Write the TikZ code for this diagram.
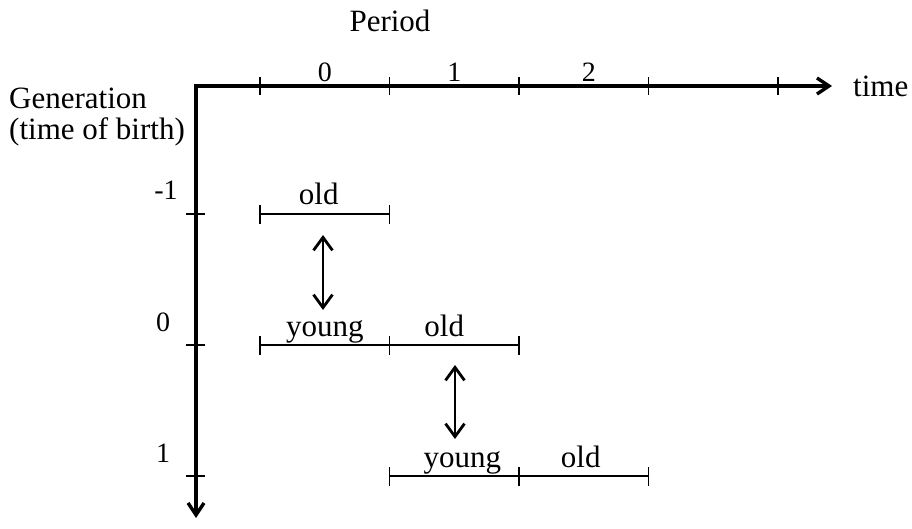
\documentclass[tikz,border=0pt]{standalone}
\usepackage{fontspec}
\setmainfont{Liberation Serif}
\usepackage{tikz}
\usetikzlibrary{arrows.meta,positioning,calc}

\begin{document}
\begin{tikzpicture}[x=1pt,y=1pt,>={Straight Barb[length=12pt,width=16pt]},
  axis/.style={line width=3.4pt},
  tick/.style={line width=1.9pt},
  span/.style={line width=1.9pt},
  dbl/.style={line width=2.8pt,{Straight Barb[length=13pt,width=19pt]}-{Straight Barb[length=13pt,width=19pt]}},
  txt/.style={font=\fontsize{31}{36}\selectfont,inner sep=0pt,anchor=base},
  num/.style={font=\fontsize{28}{33}\selectfont,inner sep=0pt,anchor=base}]
  \useasboundingbox (0,0) rectangle (912,528);
  % axes
  \coordinate (orig) at (196,442);
  \coordinate (tend) at (832,442);
  \coordinate (gend) at (196,10);
  \draw[axis,<->] (gend) -- (orig) -- (tend);
  \node[txt] (period) at (390,496) {Period};
  \node[txt,anchor=base west] (time) at (853,431) {time};
  \node[txt,anchor=base west] (gen) at (9,419) {Generation};
  \node[txt,anchor=base west] (birth) at (9,388) {(time of birth)};
  % periods
  \foreach \i/\x in {0/260,1/389.5,2/519,3/648.5,4/778}{
    \coordinate (t\i) at (\x,442);
    \draw[tick] ($(t\i)+(0,9)$) -- ($(t\i)+(0,-9)$);
  }
  \foreach \i/\j/\dx in {0/1/0,1/2/0,2/3/5}
    \node[num] (p\i) at ($(t\i)!0.5!(t\j)+(\dx,4)$) {\i};
  % generations
  \foreach \n/\g/\y/\dx in {a/-1/314/-30,b/0/183/-33,c/1/52/-33}{
    \coordinate (g\n) at (196,\y);
    \draw[tick] ($(g\n)+(-10,0)$) -- ($(g\n)+(9,0)$);
    \node[num] (gl\n) at ($(g\n)+(\dx,14)$) {\g};
  }
  % lifetimes
  \foreach \n/\a/\b/\g/\dx/\w in {oa/0/1/ga/-6/old,yb/0/1/gb/0/young,
      ob/1/2/gb/-10/old,yc/1/2/gc/8/young,oc/2/3/gc/-3/old}{
    \draw[span] (t\a |- \g) -- node[txt,xshift=\dx,yshift=9] (\n) {\w} (t\b |- \g);
    \draw[tick] ($(t\a |- \g)+(0,9)$) -- ($(t\a |- \g)+(0,-10)$);
    \draw[tick] ($(t\b |- \g)+(0,9)$) -- ($(t\b |- \g)+(0,-10)$);
  }
  % old and young meet
  \coordinate (ua) at (323,293);
  \coordinate (da) at (323,218);
  \coordinate (ub) at (455,163);
  \coordinate (db) at (455,89);
  \draw[dbl] (ua) -- (da);
  \draw[dbl] (ub) -- (db);
\end{tikzpicture}
\end{document}
